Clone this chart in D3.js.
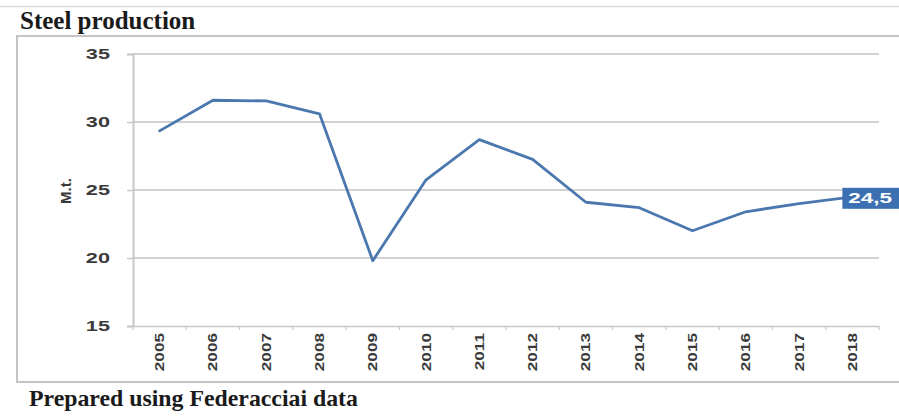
<!DOCTYPE html>
<html>
<head>
<meta charset="utf-8">
<script src="https://cdn.jsdelivr.net/npm/d3@7"></script>
<style>
  html, body { margin: 0; padding: 0; background: #fff; }
  svg { display: block; }
</style>
</head>
<body>
<svg id="chart" width="899" height="417"></svg>
<script>
// Italian crude steel output, million tonnes
const years = ["2005","2006","2007","2008","2009","2010","2011","2012","2013","2014","2015","2016","2017","2018"];
const production = [29.35, 31.6, 31.55, 30.6, 19.8, 25.75, 28.7, 27.25, 24.1, 23.7, 22.0, 23.4, 24.0, 24.5];
const yTicks = [15, 20, 25, 30, 35];
const lastLabel = "24,5";

const svg = d3.select("#chart");
const W = 899, H = 417;
const sans = "Arial, 'Liberation Sans', sans-serif";
const serif = "'Liberation Serif', 'Times New Roman', serif";

// thin rule across the top and the frame around the chart
svg.append("line").attr("x1", 0).attr("x2", W).attr("y1", 6.5).attr("y2", 6.5)
  .attr("stroke", "#dcdcdc").attr("stroke-width", 1.5);
svg.append("rect").attr("x", 17).attr("y", 36).attr("width", 900).attr("height", 346)
  .attr("fill", "none").attr("stroke", "#c4c4c4").attr("stroke-width", 2);

// title and source note
svg.append("text").attr("x", 20).attr("y", 29).text("Steel production")
  .attr("font-family", serif).attr("font-weight", "bold")
  .attr("font-size", 25).attr("fill", "#1a1a1a");
svg.append("text").attr("x", 29).attr("y", 406).text("Prepared using Federacciai data")
  .attr("font-family", serif).attr("font-weight", "bold")
  .attr("font-size", 23.8).attr("fill", "#1a1a1a");

const plot = { left: 133, right: 879, top: 54, bottom: 326 };

const x = d3.scaleBand().domain(years).range([plot.left, plot.right]);
const y = d3.scaleLinear().domain([15, 35]).range([plot.bottom, plot.top]);

// horizontal gridlines
svg.append("g").selectAll("line").data(yTicks.filter(t => t > 15)).join("line")
  .attr("x1", plot.left).attr("x2", plot.right)
  .attr("y1", d => y(d)).attr("y2", d => y(d))
  .attr("stroke", "#d2d2d2").attr("stroke-width", 2);

// y axis; tick labels are drawn wide
const yAxis = svg.append("g").attr("transform", `translate(${plot.left},0)`)
  .call(d3.axisLeft(y).tickValues(yTicks).tickSize(6).tickPadding(0));
yAxis.select(".domain").attr("stroke", "#c8c8c8").attr("stroke-width", 2);
yAxis.selectAll(".tick line").attr("stroke", "#c8c8c8").attr("stroke-width", 1.5);
yAxis.selectAll(".tick text")
  .attr("x", 0).attr("transform", "translate(-23,0) scale(1.55,1)")
  .attr("font-family", sans).attr("font-weight", "bold")
  .attr("font-size", 14).attr("fill", "#3a3a3a");

// x axis with tick marks on band edges; labels rotated and stretched
const xAxis = svg.append("g").attr("transform", `translate(0,${plot.bottom})`)
  .call(d3.axisBottom(x).tickSize(0).tickPadding(0));
xAxis.select(".domain").attr("stroke", "#c8c8c8").attr("stroke-width", 1.5);
xAxis.selectAll(".tick text")
  .attr("y", 0).attr("font-family", sans)
  .attr("font-weight", "bold").attr("font-size", 13).attr("fill", "#3a3a3a")
  .attr("text-anchor", "end").attr("dy", "0.35em")
  .attr("transform", "translate(0,7) rotate(-90) scale(1.32,1)");
svg.append("g").selectAll("line").data(years.concat(["end"])).join("line")
  .attr("x1", (d, i) => plot.left + i * x.step()).attr("x2", (d, i) => plot.left + i * x.step())
  .attr("y1", plot.bottom).attr("y2", plot.bottom + 4)
  .attr("stroke", "#c8c8c8").attr("stroke-width", 1.2);

// axis title
svg.append("text").attr("transform", `translate(66,191) rotate(-90)`)
  .attr("text-anchor", "middle").attr("dy", "0.35em").text("M.t.")
  .attr("font-family", sans).attr("font-weight", "bold")
  .attr("font-size", 15).attr("fill", "#3a3a3a");

// production line
const pts = years.map((yr, i) => [x(yr) + x.bandwidth() / 2, y(production[i])]);
svg.append("path").datum(pts)
  .attr("d", d3.line())
  .attr("fill", "none").attr("stroke", "#4a78ae").attr("stroke-width", 2.8)
  .attr("stroke-linejoin", "round").attr("stroke-linecap", "round");

// value callout on the last year
const last = pts[pts.length - 1];
const lbl = svg.append("g").attr("transform", `translate(${last[0] - 10},${last[1] + 1})`);
lbl.append("rect").attr("x", 0).attr("y", -10).attr("width", 70).attr("height", 21)
  .attr("fill", "#3d70b2");
lbl.append("text").attr("x", 0).attr("y", 0).attr("dy", "0.36em").text(lastLabel)
  .attr("transform", "translate(6,0) scale(1.5,1)")
  .attr("font-family", sans).attr("font-weight", "bold")
  .attr("font-size", 15).attr("fill", "#fff");
</script>
</body>
</html>
